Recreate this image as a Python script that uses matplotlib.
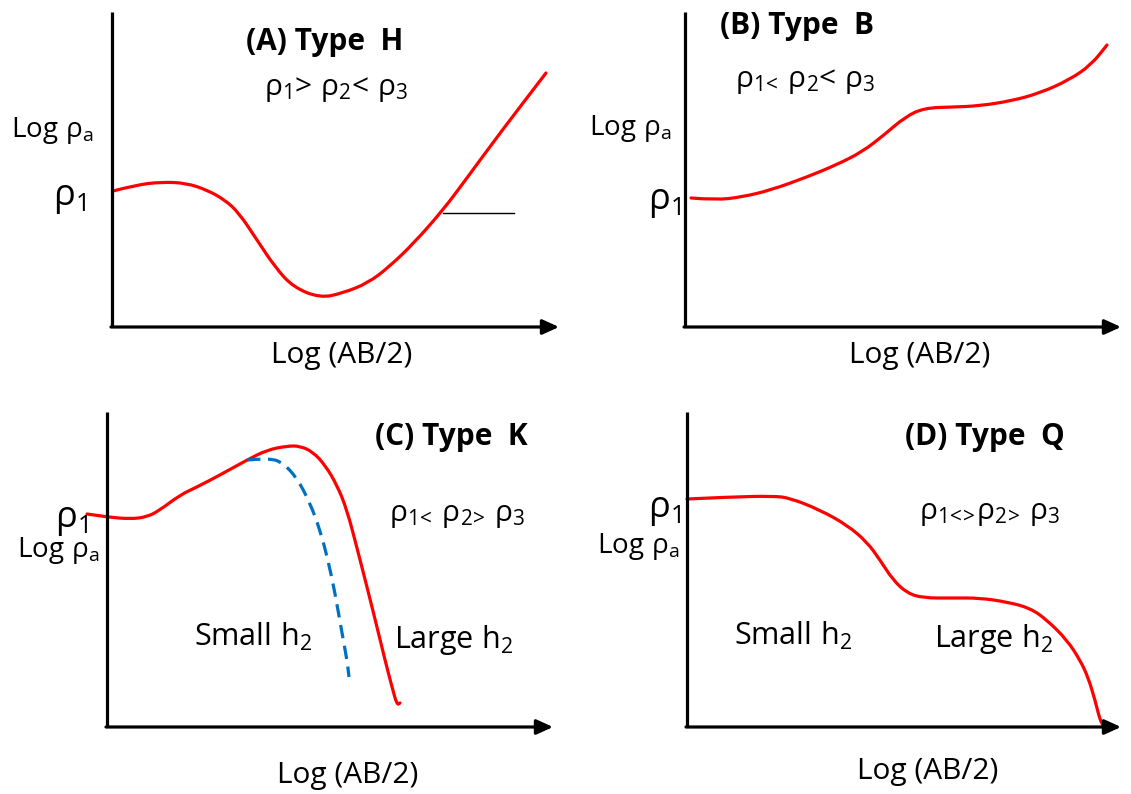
import matplotlib
matplotlib.use("Agg")
import matplotlib.pyplot as plt
from matplotlib.path import Path
from matplotlib.patches import PathPatch

plt.rcParams.update({
    "font.family": ["Open Sans", "DejaVu Sans"],
    "mathtext.fontset": "custom",
    "mathtext.rm": "Open Sans",
    "mathtext.it": "Open Sans:italic",
    "mathtext.bf": "Open Sans:bold",
})

W, H = 1131, 794

# sketched sounding curves, canvas units (x right, y down)
A_X = [113, 136, 161, 186, 207, 225, 239, 257, 275, 293, 320, 343, 368, 389, 414, 443, 464, 500, 546]
A_Y = [191, 185, 182, 183, 190, 200, 213, 240, 267, 287, 298, 293, 283, 267, 243, 210, 182, 133, 73]
A_TICK_X = [443, 514]
A_TICK_Y = [213, 213]

B_X = [691, 716, 742, 771, 807, 836, 862, 884, 905, 924, 953, 978, 1011, 1040, 1069, 1091, 1107]
B_Y = [198, 200, 197, 190, 177, 165, 152, 135, 117, 108, 107, 106, 101, 93, 80, 65, 45]

C_X = [87, 107, 130, 147, 160, 180, 197, 220, 247, 267, 287, 300, 313, 325, 337, 347, 357, 367, 377, 385, 392, 397, 400]
C_Y = [514, 517, 519, 517, 510, 495, 487, 475, 460, 450, 446, 446, 452, 465, 485, 510, 548, 587, 627, 660, 687, 705, 703]
C_SMALL_X = [247, 270, 283, 297, 310, 320, 328, 335, 342, 347, 349]
C_SMALL_Y = [460, 458, 463, 478, 503, 530, 560, 593, 633, 660, 677]

D_X = [687, 730, 773, 790, 820, 847, 867, 880, 893, 907, 923, 953, 980, 1007, 1030, 1047, 1067, 1080, 1088, 1095, 1100, 1103]
D_Y = [499, 497, 496, 498, 510, 525, 542, 560, 580, 593, 598, 598, 598, 602, 608, 620, 640, 660, 677, 700, 720, 725]

# axes frames: (y-axis x, top y, x-axis y, arrow tip x)
FRAMES = [(112, 12, 327, 559), (685, 12, 327, 1121), (107, 412, 727, 553), (687, 412, 727, 1121)]

TITLES = ["(A) Type  H", "(B) Type  B", "(C) Type  K", "(D) Type  Q"]
TITLE_POS = [(325, 42), (797, 26), (451, 437), (985, 437)]
RELATIONS = [r"$\mathrm{ρ_1}$>$\mathrm{\ ρ_2}$<$\mathrm{\ ρ_3}$",
             r"$\mathrm{ρ_{1\!<\!}\ ρ_2}$<$\mathrm{\ ρ_3}$",
             r"$\mathrm{ρ_{1\!<\!}\ ρ_{2\!>\!}\ ρ_3}$",
             r"$\mathrm{ρ_{1\!<\!\!>\!}ρ_{2\!>\!}\ ρ_3}$"]
REL_POS = [(336, 89), (805, 82), (457, 515), (990, 513)]
YLAB_POS = [(52, 130), (630, 129), (58, 550), (638, 546)]
RHO1_POS = [(69, 198), (664, 202), (71, 520), (664, 510)]
XLAB_POS = [(342, 355), (920, 355), (348, 775), (928, 771)]
SMALL_POS = [(253, 637), (793, 636)]
LARGE_POS = [(454, 640), (994, 639)]


def smooth(xs, ys, **kw):
    # quadratic Bezier through segment midpoints, the points act as control points
    pts = list(zip(xs, ys))
    verts, codes = [pts[0]], [Path.MOVETO]
    for i in range(1, len(pts) - 1):
        mid = ((pts[i][0] + pts[i + 1][0]) / 2, (pts[i][1] + pts[i + 1][1]) / 2)
        verts += [pts[i], mid]
        codes += [Path.CURVE3, Path.CURVE3]
    verts.append(pts[-1])
    codes.append(Path.LINETO)
    ax.add_patch(PathPatch(Path(verts, codes), fill=False, **kw))


fig = plt.figure(figsize=(W / 100, H / 100), dpi=100)
ax = fig.add_axes([0, 0, 1, 1])
ax.set_xlim(0, W)
ax.set_ylim(H, 0)
ax.axis("off")

for x0, top, y0, tip in FRAMES:
    ax.plot([x0, x0], [top, y0], color="k", lw=2.3, solid_capstyle="butt")
    ax.annotate("", xy=(tip, y0), xytext=(x0 - 1, y0),
                arrowprops=dict(arrowstyle="-|>,head_length=0.55,head_width=0.25",
                                lw=2.3, color="k", mutation_scale=18,
                                shrinkA=0, shrinkB=0))

red = dict(edgecolor="#ff0000", lw=2.3, capstyle="round", joinstyle="round")
smooth(A_X, A_Y, **red)
ax.plot(A_TICK_X, A_TICK_Y, color="k", lw=1.0)
smooth(B_X, B_Y, **red)
smooth(C_X, C_Y, **red)
smooth(C_SMALL_X, C_SMALL_Y, edgecolor="#0070c0", lw=2.3, linestyle=(0, (4.2, 2.4)))
smooth(D_X, D_Y, **red)

for t, (x, y) in zip(TITLES, TITLE_POS):
    ax.text(x, y, t, fontsize=21.5, fontweight="bold", ha="center", va="center")
for t, (x, y) in zip(RELATIONS, REL_POS):
    ax.text(x, y, t, fontsize=21.5, ha="center", va="center")
for x, y in YLAB_POS:
    ax.text(x, y, r"$\mathrm{Log\ ρ_a}$", fontsize=20, ha="center", va="center")
for x, y in RHO1_POS:
    ax.text(x, y, r"$\mathrm{ρ_1}$", fontsize=26, ha="center", va="center")
for x, y in XLAB_POS:
    ax.text(x, y, "Log (AB/2)", fontsize=21.5, ha="center", va="center")
for x, y in SMALL_POS:
    ax.text(x, y, r"$\mathrm{Small\ h_2}$", fontsize=22, ha="center", va="center")
for x, y in LARGE_POS:
    ax.text(x, y, r"$\mathrm{Large\ h_2}$", fontsize=22, ha="center", va="center")

fig.savefig("out.png", dpi=100)
